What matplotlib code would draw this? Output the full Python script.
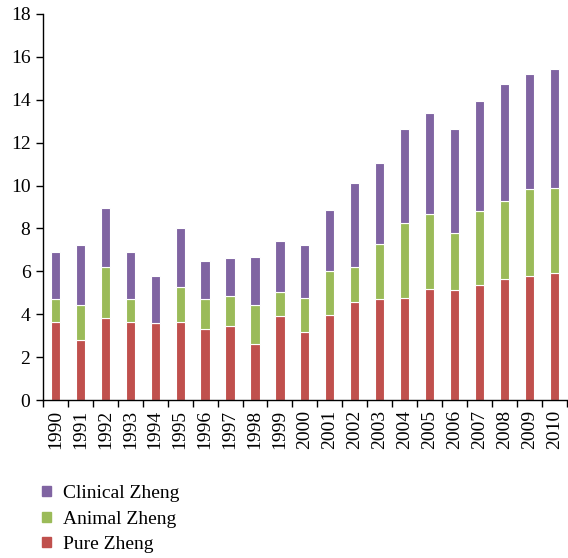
import matplotlib
matplotlib.use("Agg")
import matplotlib.pyplot as plt
from matplotlib.patches import Patch
import numpy as np

years = [str(y) for y in range(1990, 2011)]
pure_top = [3.64, 2.80, 3.84, 3.64, 3.58, 3.65, 3.31, 3.47, 2.60, 3.90, 3.16,
            3.96, 4.57, 4.72, 4.76, 5.16, 5.13, 5.36, 5.63, 5.78, 5.92]
animal_top = [4.72, 4.42, 6.22, 4.72, 3.58, 5.26, 4.70, 4.85, 4.42, 5.02, 4.76,
              6.02, 6.19, 7.29, 8.26, 8.68, 7.77, 8.82, 9.28, 9.84, 9.89]
total_top = [6.92, 7.23, 8.94, 6.92, 5.77, 8.02, 6.47, 6.64, 6.69, 7.42, 7.23,
             8.85, 10.12, 11.04, 12.64, 13.39, 12.64, 13.96, 14.75, 15.22, 15.45]

pure = np.array(pure_top)
animal = np.array(animal_top) - np.array(pure_top)
clinical = np.array(total_top) - np.array(animal_top)

c_pure = "#C0504D"
c_animal = "#9BBB59"
c_clin = "#8064A2"

plt.rcParams['font.family'] = ['Liberation Serif', 'DejaVu Serif']

fig = plt.figure(figsize=(5.68, 5.58), dpi=100)
ax = fig.add_axes([0.0757, 0.283, 0.922, 0.692])

x = np.arange(len(years))
w = 0.37
ax.bar(x, pure, w, color=c_pure, edgecolor="white", linewidth=0.8)
ax.bar(x, animal, w, bottom=pure, color=c_animal, edgecolor="white", linewidth=0.8)
ax.bar(x, clinical, w, bottom=pure + animal, color=c_clin, edgecolor="white", linewidth=0.8)

ax.set_xlim(-0.5, len(years) - 0.5)
ax.set_ylim(0, 18)
ax.set_yticks(range(0, 19, 2))
ax.set_xticks(x)
ax.set_xticklabels(years, rotation=90, fontsize=14)
ax.tick_params(axis='x', length=0, pad=7)
ax.set_xticks(np.arange(-0.5, len(years), 1), minor=True)
ax.tick_params(axis='x', which='minor', length=5, width=1, direction='out')
ax.tick_params(axis='y', length=5, width=1, direction='out', labelsize=14, pad=4)
for s in ['top', 'right']:
    ax.spines[s].set_visible(False)
for s in ['left', 'bottom']:
    ax.spines[s].set_linewidth(1)

handles = [Patch(color=c_clin, label="Clinical Zheng"),
           Patch(color=c_animal, label="Animal Zheng"),
           Patch(color=c_pure, label="Pure Zheng")]
fig.legend(handles=handles, loc='upper left', bbox_to_anchor=(0.061, 0.145),
           frameon=False, fontsize=14, handlelength=0.42, handleheight=0.42,
           handletextpad=0.62, labelspacing=0.45, borderaxespad=0)

fig.savefig("out.png", dpi=100)
